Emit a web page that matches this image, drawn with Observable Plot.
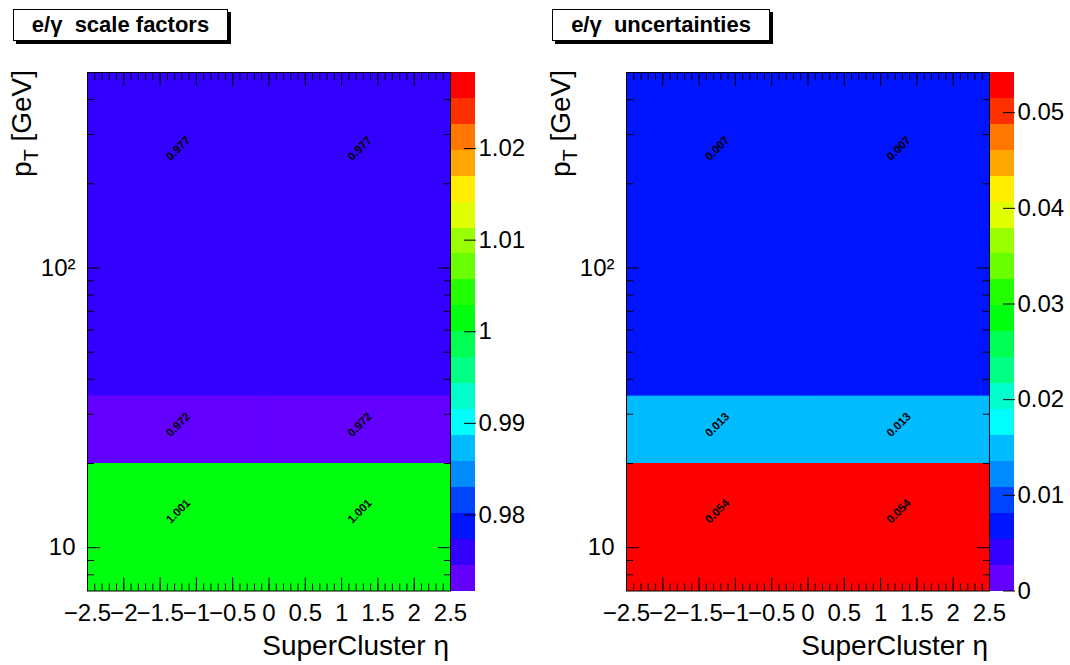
<!DOCTYPE html>
<html><head><meta charset="utf-8">
<script src="https://cdn.jsdelivr.net/npm/d3@7"></script>
<script src="https://cdn.jsdelivr.net/npm/@observablehq/plot@0.6"></script>
<style>
html,body{margin:0;padding:0;background:#fff;}
#root{position:relative;width:1070px;height:665px;overflow:hidden;font-family:"Liberation Sans",Arial,Helvetica,sans-serif;color:#000;}
.abs{position:absolute;top:0;}
.abs svg{max-width:none !important;display:block;}
.title{position:absolute;border:1px solid #000;box-shadow:3px 3px 0 #000;background:#fff;font-weight:bold;font-size:22px;display:flex;align-items:center;justify-content:center;box-sizing:border-box;white-space:nowrap;}
.ylab{position:absolute;left:0;top:0;width:200px;text-align:right;font-size:28px;line-height:28px;white-space:nowrap;transform-origin:0 0;}
.ylab sub{font-size:70%;vertical-align:-0.35em;line-height:0;}
.xlab{position:absolute;width:300px;font-size:28px;line-height:28px;white-space:nowrap;text-align:right;}
</style></head><body><div id="root"></div>
<script>
// ---- data ----
const etaEdges = [-2.5, 0, 2.5];
const ptEdges = [7, 20, 35, 500];
// values per pT bin (same in both η bins)
const sfValues = [1.001, 0.972, 0.977];
const sfLabels = ["1.001", "0.972", "0.977"];
const uncValues = [0.0542, 0.0137, 0.0072];
const uncLabels = ["0.054", "0.013", "0.007"];
const sfRange = [0.9717, 1.0283];
const uncRange = [0, 0.0542];
const sfTicks = [0.98, 0.99, 1, 1.01, 1.02];
const uncTicks = [0, 0.01, 0.02, 0.03, 0.04, 0.05];
const etaMajor = [-2.5, -2, -1.5, -1, -0.5, 0, 0.5, 1, 1.5, 2, 2.5];
const etaMinor = d3.range(-25, 26).map(i => i / 10);
const ptMajor = [10, 100];
const ptMinor = [8, 9, 20, 30, 40, 50, 60, 70, 80, 90, 200, 300, 400];
const palette = ["#6300ff","#3300ff","#0014ff","#0044ff","#008bff","#00bbff","#00fffc","#00ffcc","#00ff85","#00ff55",
                 "#00ff0e","#22ff00","#69ff00","#99ff00","#e0ff00","#ffee00","#ffa700","#ff7700","#ff3000","#ff0000"];

const FONT = '"Liberation Sans", Arial, Helvetica, sans-serif';
const fmtEta = d => d < 0 ? "\u2212" + (-d) : String(d);
const blank = () => "";

function thresholdsFor(range) {
  return d3.range(1, palette.length).map(i => range[0] + i * (range[1] - range[0]) / palette.length);
}

function heatmap(values, labels, range) {
  const cells = [];
  for (let j = 0; j < ptEdges.length - 1; j++)
    for (let i = 0; i < etaEdges.length - 1; i++)
      cells.push({x1: etaEdges[i], x2: etaEdges[i + 1], y1: ptEdges[j], y2: ptEdges[j + 1], v: values[j], label: labels[j]});
  return Plot.plot({
    width: 535, height: 665, marginLeft: 87, marginRight: 85, marginTop: 72, marginBottom: 74.5,
    style: {fontFamily: FONT, background: "transparent", overflow: "visible", color: "black", maxWidth: "none"},
    x: {domain: [-2.5, 2.5]},
    y: {type: "log", domain: [7, 500]},
    color: {type: "threshold", domain: thresholdsFor(range), range: palette},
    marks: [
      Plot.rect(cells, {x1: "x1", x2: "x2", y1: "y1", y2: "y2", fill: "v", stroke: "v", strokeWidth: 0.6, shapeRendering: "crispEdges"}),
      Plot.text(cells, {x: d => (d.x1 + d.x2) / 2, y: d => (d.y1 + d.y2) / 2, text: "label", rotate: -45, fontSize: 11.5, fontWeight: "bold", fill: "black"}),
      Plot.axisX(etaMinor, {anchor: "bottom", tickSize: -7, tickFormat: blank, label: null}),
      Plot.axisX(etaMinor, {anchor: "top", tickSize: -7, tickFormat: blank, label: null}),
      Plot.axisX(etaMajor, {anchor: "bottom", tickSize: -13, tickPadding: 25.5, fontSize: 24, label: null, tickFormat: fmtEta}),
      Plot.axisX(etaMajor, {anchor: "top", tickSize: -13, tickFormat: blank, label: null}),
      Plot.axisY(ptMinor, {anchor: "left", tickSize: -7, tickFormat: blank, label: null}),
      Plot.axisY(ptMinor, {anchor: "right", tickSize: -7, tickFormat: blank, label: null}),
      Plot.axisY(ptMajor, {anchor: "left", tickSize: -13, tickPadding: 25, fontSize: 24, label: null, tickFormat: d => d === 100 ? "10\u00b2" : "10"}),
      Plot.axisY(ptMajor, {anchor: "right", tickSize: -13, tickFormat: blank, label: null}),
      Plot.frame({stroke: "black", strokeWidth: 1})
    ]
  });
}

function colorbar(range, ticks) {
  const step = (range[1] - range[0]) / palette.length;
  const bands = palette.map((c, i) => ({lo: range[0] + i * step, hi: range[0] + (i + 1) * step}));
  return Plot.plot({
    width: 110, height: 665, marginLeft: 0, marginRight: 86, marginTop: 72, marginBottom: 74.5,
    style: {fontFamily: FONT, background: "transparent", overflow: "visible", color: "black", maxWidth: "none"},
    y: {domain: range},
    color: {type: "threshold", domain: thresholdsFor(range), range: palette},
    marks: [
      Plot.rect(bands, {y1: "lo", y2: "hi", fill: d => (d.lo + d.hi) / 2, shapeRendering: "crispEdges"}),
      Plot.axisY(ticks, {anchor: "right", tickSize: -12, tickPadding: 15, fontSize: 24, label: null, line: true,
                         tickFormat: d => String(+d.toFixed(2))})
    ]
  });
}

const root = document.getElementById("root");
function place(el, left, width) {
  const w = document.createElement("div");
  w.className = "abs";
  w.style.left = left + "px";
  w.style.width = width + "px";
  w.appendChild(el);
  root.appendChild(w);
}
function html(s) { const t = document.createElement("div"); t.innerHTML = s; return t.firstElementChild; }

const panels = [
  {dx: 0, values: sfValues, labels: sfLabels, range: sfRange, ticks: sfTicks, title: "e/\u03b3&nbsp; scale factors", tw: 215},
  {dx: 539, values: uncValues, labels: uncLabels, range: uncRange, ticks: uncTicks, title: "e/\u03b3&nbsp; uncertainties", tw: 218}
];
for (const p of panels) {
  place(heatmap(p.values, p.labels, p.range), p.dx, 535);
  place(colorbar(p.range, p.ticks), p.dx + 451, 110);
  const t = html(`<div class="title" style="left:${13 + p.dx}px;top:9px;width:${p.tw}px;height:32px">${p.title}</div>`);
  root.appendChild(t);
  const yl = html(`<div class="ylab" style="transform:translate(${8 + p.dx}px,270px) rotate(-90deg)">p<sub>T</sub> [GeV]</div>`);
  root.appendChild(yl);
  const xl = html(`<div class="xlab" style="left:${149 + p.dx}px;top:632px">SuperCluster \u03b7</div>`);
  root.appendChild(xl);
}
</script></body></html>
